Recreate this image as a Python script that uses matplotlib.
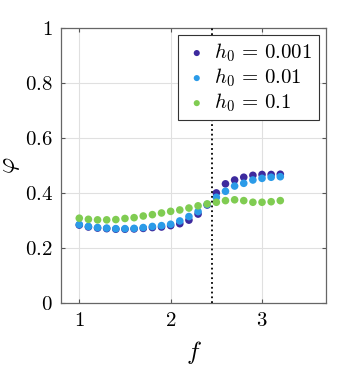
import numpy as np
import matplotlib
matplotlib.use("Agg")
import matplotlib.pyplot as plt

plt.rcParams['mathtext.fontset'] = 'cm'
plt.rcParams['font.family'] = 'serif'
plt.rcParams['font.serif'] = ['DejaVu Serif']

# data
f = [1.0, 1.1, 1.2, 1.3, 1.4, 1.5, 1.6, 1.7, 1.8, 1.9, 2.0, 2.1,
     2.2, 2.3, 2.4, 2.5, 2.6, 2.7, 2.8, 2.9, 3.0, 3.1, 3.2]
phi_h0001 = [0.283, 0.276, 0.272, 0.270, 0.268, 0.268, 0.269, 0.271, 0.274, 0.276, 0.281, 0.288,
             0.301, 0.323, 0.356, 0.400, 0.433, 0.447, 0.457, 0.464, 0.467, 0.467, 0.468]
phi_h001 = [0.285, 0.278, 0.274, 0.272, 0.270, 0.270, 0.271, 0.274, 0.278, 0.281, 0.286, 0.298,
            0.314, 0.332, 0.358, 0.384, 0.406, 0.425, 0.435, 0.447, 0.453, 0.457, 0.459]
phi_h01 = [0.308, 0.304, 0.302, 0.302, 0.303, 0.307, 0.310, 0.316, 0.321, 0.327, 0.333, 0.338,
           0.345, 0.353, 0.360, 0.366, 0.372, 0.375, 0.372, 0.366, 0.366, 0.368, 0.372]
labels = [r'$h_0\,=\,0.001$', r'$h_0\,=\,0.01$', r'$h_0\,=\,0.1$']
colors = ['#3d2a9e', '#2b9be8', '#80cc52']
f_line = 2.45

fig = plt.figure(figsize=(3.61, 3.73), dpi=100)
ax = fig.add_axes([0.169, 0.188, 0.734, 0.737])

for ys, lab, c in zip([phi_h0001, phi_h001, phi_h01], labels, colors):
    ax.scatter(f, ys, s=30, color=c, label=lab, edgecolors='none', zorder=3)

ax.axvline(f_line, color='black', linestyle=':', linewidth=1.3, zorder=4)

ax.set_xlim(0.8, 3.7)
ax.set_ylim(0, 1)
ax.set_xticks([1, 2, 3])
ax.set_xticklabels([r'$1$', r'$2$', r'$3$'])
ax.set_yticks([0, 0.2, 0.4, 0.6, 0.8, 1])
ax.set_yticklabels([r'$0$', r'$0.2$', r'$0.4$', r'$0.6$', r'$0.8$', r'$1$'])
ax.tick_params(direction='in', top=True, right=True, labelsize=15, length=3,
               color='#555555', pad=6)
ax.grid(True, color='#e0e0e0', linewidth=0.8)
ax.set_axisbelow(True)
for sp in ax.spines.values():
    sp.set_color('#666666')
    sp.set_linewidth(0.9)

ax.set_xlabel(r'$f$', fontsize=18, labelpad=6)
ax.set_ylabel(r'$\varphi$', fontsize=18, labelpad=2)

leg = ax.legend(loc='upper right', fontsize=15, fancybox=False, framealpha=1,
                edgecolor='#333333', handletextpad=0.25, borderpad=0.3,
                labelspacing=0.12, handlelength=1.2, borderaxespad=0.35,
                markerscale=0.8)
leg.get_frame().set_linewidth(0.8)

fig.savefig('out.png', dpi=100)
